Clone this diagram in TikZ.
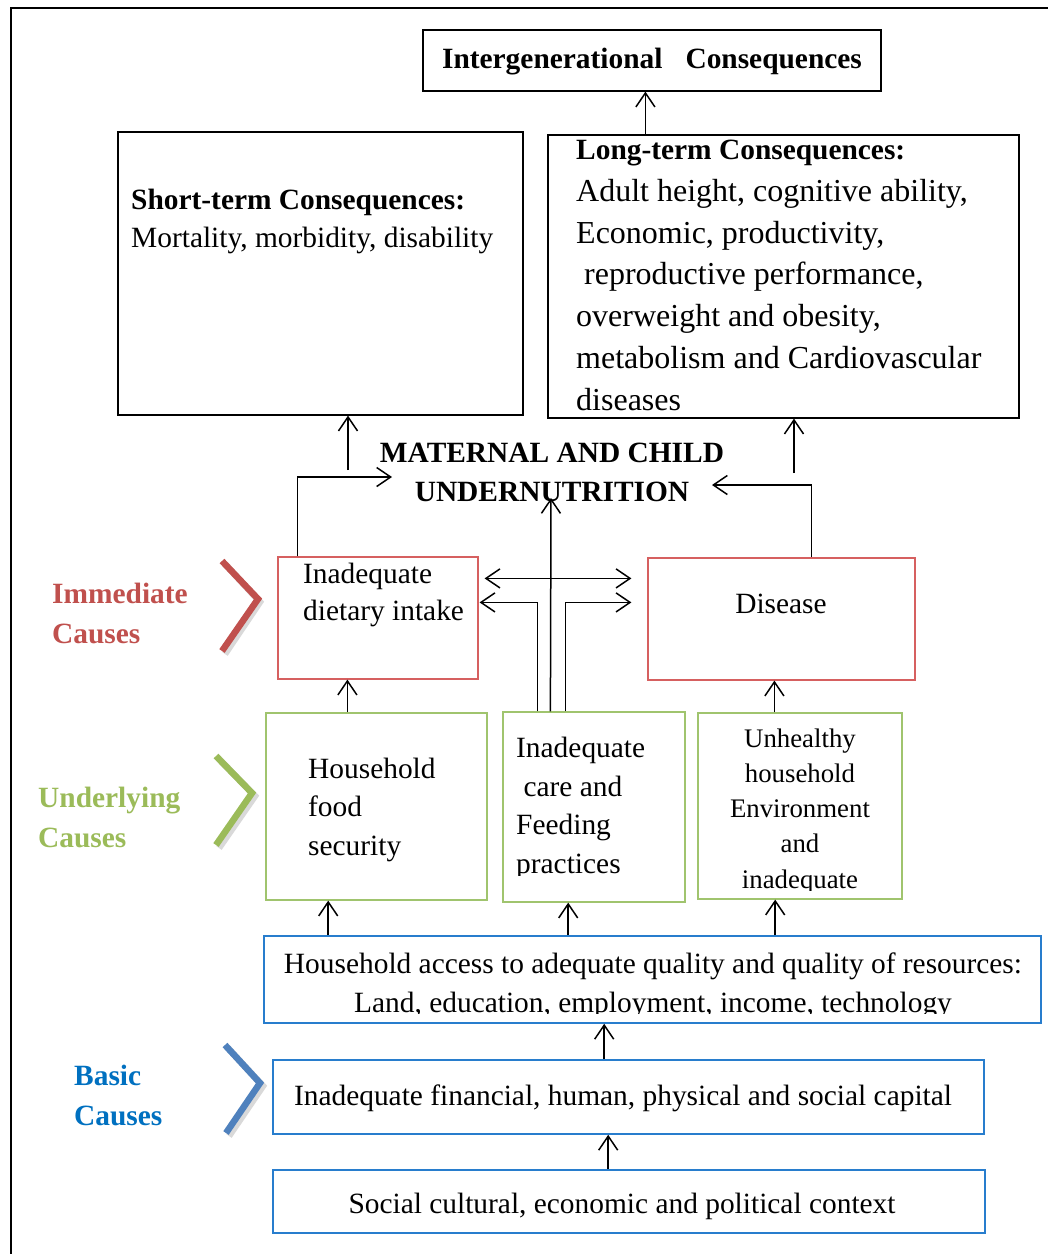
\documentclass[tikz,border=0pt]{standalone}
\usepackage{fontspec}
\setmainfont{Liberation Serif}
\usetikzlibrary{arrows.meta,calc,fit}
\definecolor{immRed}{RGB}{192,80,77}
\definecolor{undGreen}{RGB}{155,187,89}
\definecolor{basBlue}{RGB}{0,112,192}
\definecolor{boxRed}{RGB}{214,96,96}
\definecolor{boxGreen}{RGB}{160,196,110}
\definecolor{boxBlue}{RGB}{40,125,205}
\definecolor{chevBlue}{RGB}{79,129,189}
\tikzset{myBox/.style={draw=black, line width=1.2pt, inner sep=0pt}}
\tikzset{myRedBox/.style={myBox, draw=boxRed}}
\tikzset{myGreenBox/.style={myBox, draw=boxGreen}}
\tikzset{myBlueBox/.style={myBox, draw=boxBlue, line width=1.6pt}}
\tikzset{myArrow/.style={line width=1.5pt, -{Straight Barb[length=14pt,width=19pt]}}}
\tikzset{myDArrow/.style={line width=1.5pt, {Straight Barb[length=14pt,width=19pt]}-{Straight Barb[length=14pt,width=19pt]}}}
\tikzset{myText/.style={inner sep=0pt, font=\fontsize{29.4}{42}\selectfont, align=left}}
\tikzset{myLevel/.style={inner sep=0pt, font=\fontsize{29.4}{39.5}\selectfont\bfseries, align=left, anchor=base west}}
\tikzset{myChevron/.style={line width=6.5pt, line join=miter}}

\begin{document}
\begin{tikzpicture}[x=1pt,y=-1pt]
	\useasboundingbox (0,0) rectangle (1048,1254);
	\draw[line width=2.5pt] (11,1280) -- (11,8) -- (1070,8);
	
	% consequences (multi-line texts sit on the baseline of their last line)
	\node[myBox, fit={(423,30) (881,91)}] (inter) {};
	\node[myText, anchor=base] (interTxt) at (652,68) {\textbf{Intergenerational\hspace{23pt}Consequences}};
	\node[myBox, fit={(118,132) (523,415)}] (short) {};
	\node[myText, anchor=base west, font=\fontsize{29.4}{38}\selectfont] (shortTxt) at (131,247) {\textbf{Short-term Consequences:}\\Mortality, morbidity, disability};
	\node[myBox, fit={(548,135) (1019,418)}] (long) {};
	\node[myText, anchor=base west, font=\fontsize{32}{41.7}\selectfont] (longTxt) at (576,410) {{\fontsize{29.4}{41.7}\selectfont\bfseries Long-term Consequences:}\\Adult height, cognitive ability,\\Economic, productivity,\\\hspace*{0.25em}reproductive performance,\\overweight and obesity,\\metabolism and Cardiovascular\\diseases};
	\node[myText, anchor=base, align=center, font=\fontsize{29.4}{39}\selectfont\bfseries] (mcu) at (552,501) {MATERNAL AND CHILD\\UNDERNUTRITION};
	
	% immediate causes
	\node[myRedBox, fit={(278,557) (478,679)}] (diet) {};
	\node[myText, anchor=base west, font=\fontsize{29.4}{37}\selectfont] (dietTxt) at (303,620) {Inadequate\\dietary intake};
	\node[myRedBox, fit={(648,558) (915,680)}] (disease) {};
	\node[myText, anchor=base] (diseaseTxt) at (781,613) {Disease};
	
	% underlying causes
	\node[myGreenBox, fit={(266,713) (487,900)}] (food) {};
	\node[myText, anchor=base west, font=\fontsize{29.4}{38.5}\selectfont] (foodTxt) at (308,855) {Household\\food\\security};
	\node[myGreenBox, fit={(503,712) (685,902)}] (care) {};
	\node[myGreenBox, fit={(698,713) (902,899)}] (env) {};
	\begin{scope}
		\clip (care.north west) rectangle ($(care.south east)+(0,-27)$);
		\node[myText, anchor=base west, font=\fontsize{29.4}{38.5}\selectfont] (careTxt) at (516,873) {Inadequate\\\hspace*{0.25em}care and\\Feeding\\practices};
	\end{scope}
	\begin{scope}
		\clip (env.north west) rectangle ($(env.south east)+(0,-9)$);
		\node[myText, anchor=base, align=center, font=\fontsize{26.8}{35.2}\selectfont] (envTxt) at (800,888) {Unhealthy\\household\\Environment\\and\\inadequate};
	\end{scope}
	
	% basic causes
	\node[myBlueBox, fit={(264,936) (1041,1023)}] (access) {};
	\begin{scope}
		\clip (access.north west) rectangle ($(access.south east)+(0,-10)$);
		\node[myText, anchor=base, align=center, font=\fontsize{29.4}{39}\selectfont] (accessTxt) at (653,1012) {Household access to adequate quality and quality of resources:\\Land, education, employment, income, technology};
	\end{scope}
	\node[myBlueBox, fit={(273,1060) (984,1134)}] (capital) {};
	\node[myText, anchor=base] (capitalTxt) at (623,1105) {Inadequate financial, human, physical and social capital};
	\node[myBlueBox, fit={(273,1170) (985,1233)}] (context) {};
	\node[myText, anchor=base] (contextTxt) at (622,1213) {Social cultural, economic and political context};
	
	% level labels
	\node[myLevel, text=immRed] (immLbl) at (52,643) {Immediate\\Causes};
	\node[myLevel, text=undGreen] (undLbl) at (38,847) {Underlying\\Causes};
	\node[myLevel, text=basBlue] (basLbl) at (74,1125) {Basic\\Causes};
	\draw[myChevron, black!25, opacity=0.6] (225,564) -- (260,602) -- (225,654);
	\draw[myChevron, immRed] (222,561) -- (258,599) -- (222,651);
	\draw[myChevron, black!25, opacity=0.6] (219,759) -- (255,796) -- (219,848);
	\draw[myChevron, undGreen] (216,756) -- (252,793) -- (216,845);
	\draw[myChevron, black!25, opacity=0.6] (228,1048) -- (263,1086) -- (229,1136);
	\draw[myChevron, chevBlue] (225,1045) -- (260,1083) -- (226,1133);
	
	% connectors
	\coordinate (stTail) at (348,470);
	\coordinate (ltTail) at (794,473);
	\coordinate (mcuL) at (392,477);
	\coordinate (mcuR) at (712,485);
	\coordinate (mcuC) at (551,498);
	\draw[myArrow] ($(long.north west)+(98,0)$) coordinate (c1) -- (c1 |- inter.south);
	\draw[myArrow] (stTail) -- (stTail |- short.south);
	\draw[myArrow] (ltTail) -- (ltTail |- long.south);
	\draw[myArrow] ($(diet.north west)+(20,0)$) |- (mcuL);
	\draw[myArrow] ($(disease.north west)+(164,0)$) |- (mcuR);
	\draw[myDArrow] ($(diet.north east)+(6,22)$) coordinate (d1) -- ($(d1 -| disease.west)+(-16,0)$);
	\draw[myArrow] ($(care.north west)+(48,0)$) -- (mcuC);
	\draw[myArrow] ($(care.north west)+(35,0)$) |- ($(diet.north east)+(1,46)$);
	\draw[myArrow] ($(care.north west)+(63,0)$) |- ($(disease.north west)+(-16,45)$);
	\draw[myArrow] ($(food.north west)+(82,0)$) coordinate (c2) -- (c2 |- diet.south);
	\draw[myArrow] ($(env.north west)+(77,0)$) coordinate (c3) -- (c3 |- disease.south);
	\draw[myArrow] ($(access.north west)+(65,0)$) coordinate (c4) -- (c4 |- food.south);
	\draw[myArrow] ($(access.north west)+(305,0)$) coordinate (c5) -- (c5 |- care.south);
	\draw[myArrow] ($(access.north west)+(512,0)$) coordinate (c6) -- (c6 |- env.south);
	\draw[myArrow] ($(capital.north west)+(332,0)$) coordinate (c7) -- (c7 |- access.south);
	\draw[myArrow] ($(context.north west)+(336,0)$) coordinate (c8) -- (c8 |- capital.south);
\end{tikzpicture}
\end{document}
